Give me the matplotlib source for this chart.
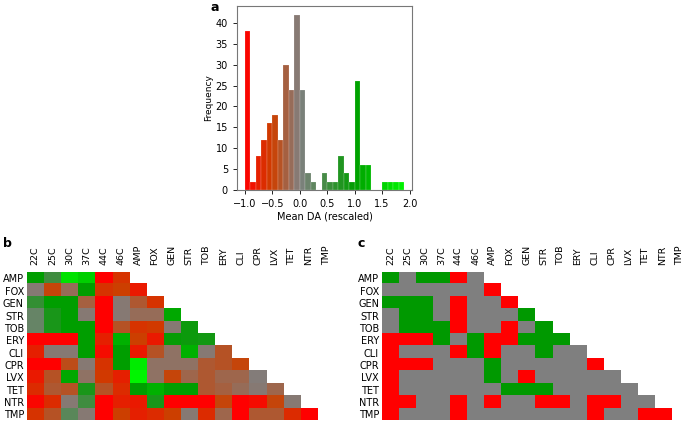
import matplotlib
matplotlib.use("Agg")
import matplotlib.pyplot as plt
import numpy as np
from matplotlib.colors import LinearSegmentedColormap, ListedColormap

# histogram of mean DA (bins of 0.1 from -1.0 to 1.9)
bin_edges = np.round(np.arange(-1.0, 1.95, 0.1), 2)
counts = [38, 2, 8, 12, 16, 18, 12, 30, 24, 42,
          24, 4, 2, 0, 4, 2, 2, 8, 4, 2,
          26, 6, 6, 0, 0, 2, 2, 2, 2]

cols = ["22C", "25C", "30C", "37C", "44C", "46C", "AMP", "FOX", "GEN",
        "STR", "TOB", "ERY", "CLI", "CPR", "LVX", "TET", "NTR", "TMP"]
rows = ["AMP", "FOX", "GEN", "STR", "TOB", "ERY", "CLI", "CPR", "LVX",
        "TET", "NTR", "TMP"]

# panel b: mean DA (rescaled), lower triangle only
mean_da = [
    [1.0, 0.5, 1.7, 1.5, -1.0, -0.6],
    [-0.05, -0.45, -0.15, 1.0, -0.6, -0.5, -0.8],
    [0.6, 1.0, 1.0, -0.25, -1.0, -0.05, -0.3, -0.6],
    [0.2, 0.8, 1.0, -0.05, -1.0, -0.05, -0.15, -0.15, 1.1],
    [0.2, 0.8, 1.0, 1.0, -1.0, -0.35, -0.6, -0.55, -0.05, 0.9],
    [-1.0, -1.0, -1.0, 1.0, -0.75, 1.2, -0.5, -0.8, 0.95, 0.9, 0.85],
    [-0.75, -0.05, -0.05, 1.0, -0.9, 1.0, -0.8, -0.35, -0.1, 1.2, -0.05, -0.35],
    [-1.0, -1.0, -0.4, -0.05, -0.6, 1.0, 1.8, -0.1, -0.1, -0.1, -0.3, -0.35, -0.45],
    [-0.8, -0.35, 1.1, -0.1, -0.55, -0.75, 1.9, -0.1, -0.45, -0.2, -0.3, -0.2, -0.2, -0.02],
    [-0.65, -0.3, -0.35, 0.8, -0.35, -0.65, 1.0, 1.2, 1.0, 1.0, -0.3, -0.25, -0.15, -0.05, -0.2],
    [-0.95, -0.65, -0.05, 0.5, -1.0, -0.75, -0.8, 0.8, -1.0, -1.0, -1.0, -0.45, -1.0, -0.9, -0.45, -0.05],
    [-0.6, -0.35, 0.3, -0.05, -1.0, -0.5, -0.75, -0.65, -0.5, -0.05, -0.65, -0.2, -1.0, -0.3, -0.3, -0.65, -1.0],
]

# panel c: interaction class (-1 antagonism, 0 none, 1 synergy)
classes = [
    [1, 0, 1, 1, -1, 0],
    [0, 0, 0, 0, 0, 0, -1],
    [1, 1, 1, 0, -1, 0, 0, -1],
    [0, 1, 1, 0, -1, 0, 0, 0, 1],
    [0, 1, 1, 1, -1, 0, 0, -1, 0, 1],
    [-1, -1, -1, 1, 0, 1, -1, -1, 1, 1, 1],
    [-1, 0, 0, 0, -1, 1, -1, 0, 0, 1, 0, 0],
    [-1, -1, -1, 0, 0, 0, 1, 0, 0, 0, 0, 0, -1],
    [-1, 0, 0, 0, 0, 0, 1, 0, -1, 0, 0, 0, 0, 0],
    [-1, 0, 0, 0, 0, 0, 0, 1, 1, 1, 0, 0, 0, 0, 0],
    [-1, -1, 0, 0, -1, 0, -1, 0, 0, -1, -1, 0, -1, -1, 0, 0],
    [-1, 0, 0, 0, -1, 0, 0, 0, 0, 0, 0, 0, -1, 0, 0, -1, -1],
]

# red -> grey -> green -> lime, on the -1..2 scale
nodes = [(-1.0, (1.0, 0.0, 0.0)), (-0.5, (0.8, 0.25, 0.0)),
         (-0.2, (0.62, 0.4, 0.3)), (0.0, (0.5, 0.5, 0.5)),
         (0.5, (0.25, 0.55, 0.25)), (1.0, (0.0, 0.62, 0.0)),
         (2.0, (0.0, 1.0, 0.0))]
cmap = LinearSegmentedColormap.from_list(
    "da", [((v + 1) / 3, c) for v, c in nodes])
norm = plt.Normalize(-1, 2)


def to_matrix(tri):
    m = np.full((len(rows), len(cols)), np.nan)
    for i, r in enumerate(tri):
        m[i, :len(r)] = r
    return np.ma.masked_invalid(m)


def heatmap(ax, mat, cm, nrm):
    ax.imshow(mat, cmap=cm, norm=nrm, aspect="auto", interpolation="nearest")
    ax.set_xticks(range(len(cols)))
    ax.set_xticklabels(cols, rotation=90, fontsize=6.8)
    ax.set_yticks(range(len(rows)))
    ax.set_yticklabels(rows, fontsize=7)
    ax.xaxis.tick_top()
    ax.tick_params(axis="x", length=0, pad=5)
    ax.tick_params(axis="y", length=0, pad=2)
    for s in ax.spines.values():
        s.set_visible(False)


fig = plt.figure(figsize=(6.85, 4.21), dpi=100)

# a: histogram
ax = fig.add_axes([0.346, 0.549, 0.2555, 0.437])
centers = bin_edges[:-1] + 0.05
ax.bar(bin_edges[:-1], counts, width=0.1, align="edge",
       color=cmap(norm(centers)), edgecolor=(1, 1, 1, 0.5), linewidth=0.25)
ax.set_xticks([-1.0, -0.5, 0.0, 0.5, 1.0, 1.5, 2.0])
ax.set_yticks(range(0, 45, 5))
ax.set_xlim(-1.145, 2.045)
ax.set_ylim(0, 44.1)
ax.tick_params(labelsize=7, length=3, width=0.6)
ax.set_xlabel("Mean DA (rescaled)", fontsize=7, labelpad=2)
ax.set_ylabel("Frequency", fontsize=6.5, labelpad=2)
for s in ax.spines.values():
    s.set_color("#777777")
    s.set_linewidth(0.8)

# b: continuous
axb = fig.add_axes([0.039, 0.0012, 0.4496, 0.352])
heatmap(axb, to_matrix(mean_da), cmap, norm)

# c: discrete
axc = fig.add_axes([0.5574, 0.0012, 0.4477, 0.352])
cls_cmap = ListedColormap([(1, 0, 0), (0.5, 0.5, 0.5), (0, 0.6, 0)])
heatmap(axc, to_matrix(classes), cls_cmap, plt.Normalize(-1.5, 1.5))

fig.text(0.307, 0.982, "a", fontsize=9, fontweight="bold", va="center")
fig.text(0.005, 0.422, "b", fontsize=9, fontweight="bold", va="center")
fig.text(0.522, 0.422, "c", fontsize=9, fontweight="bold", va="center")

fig.savefig("out.png", dpi=100)
